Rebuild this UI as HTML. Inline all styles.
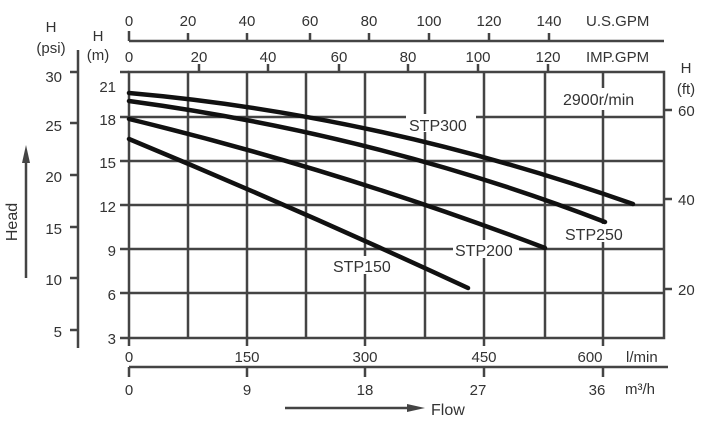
<!DOCTYPE html>
<html><head><style>body{margin:0;background:#fff}svg{display:block}text{font-family:"Liberation Sans",sans-serif;fill:#333}</style></head><body>
<svg width="710" height="425" viewBox="0 0 710 425">
<g stroke="#444" stroke-width="2.5" fill="none">
<rect x="129" y="72" width="535" height="266"/>
<path d="M188 72V338M247 72V338M306 72V338M365 72V338M425 72V338M484 72V338M545 72V338M603 72V338"/>
<path d="M129 117H664M129 161H664M129 205H664M129 249H664M129 293H664"/>
<path d="M120 72H129M120 117H129M120 161H129M120 205H129M120 249H129M120 293H129M120 338H129"/>
<path d="M78 50V348M70 72H78M70 123H78M70 175H78M70 227H78M70 278H78M70 330H78"/>
<path d="M664 110H672M664 199H672M664 289H672"/>
<path d="M129 41H664M129 31V41M188 33V41M247 33V41M310 33V41M369 33V41M429 33V41M489 33V41M549 33V41"/>
<path d="M199 64V72M268 64V72M339 64V72M408 64V72M478 64V72M548 64V72"/>
<path d="M129 338V346M247 338V346M365 338V346M484 338V346M603 338V346"/>
<path d="M129 367H668M129 367V377M247 367V377M365 367V377M484 367V377M603 367V377"/>
</g>
<g font-size="16">
<rect x="558" y="88" width="94" height="22" fill="#fff"/>
<rect x="406" y="114" width="70" height="18" fill="#fff"/>
<rect x="563" y="224" width="66" height="18" fill="#fff"/>
<rect x="453" y="240" width="66" height="18" fill="#fff"/>
<rect x="330" y="256" width="66" height="18" fill="#fff"/>
</g>
<g stroke="#111" stroke-width="4.5" fill="none" stroke-linecap="round">
<path d="M129 93 Q380 115 633 204"/>
<path d="M129 101 Q380 135 605 222"/>
<path d="M129 119 Q340 170 545 248"/>
<path d="M129 139 Q300 210 468 288"/>
</g>
<g font-size="16">
<text x="563" y="105">2900r/min</text>
<text x="409" y="131">STP300</text>
<text x="565" y="240">STP250</text>
<text x="455" y="256">STP200</text>
<text x="333" y="272">STP150</text>
</g>
<path d="M26 278V160" stroke="#444" stroke-width="2.5"/>
<path d="M22 163L26 145L30 163Z" fill="#444"/>
<path d="M285 408H410" stroke="#444" stroke-width="2.5"/>
<path d="M407 404L425 408L407 412Z" fill="#444"/>
<g font-size="15" text-anchor="middle">
<text x="129" y="26">0</text><text x="188" y="26">20</text><text x="247" y="26">40</text><text x="310" y="26">60</text><text x="369" y="26">80</text><text x="429" y="26">100</text><text x="489" y="26">120</text><text x="549" y="26">140</text>
<text x="129" y="62">0</text><text x="199" y="62">20</text><text x="268" y="62">40</text><text x="339" y="62">60</text><text x="408" y="62">80</text><text x="478" y="62">100</text><text x="548" y="62">120</text>
<text x="129" y="362">0</text><text x="247" y="362">150</text><text x="365" y="362">300</text><text x="484" y="362">450</text><text x="590" y="362">600</text>
<text x="129" y="395">0</text><text x="247" y="395">9</text><text x="365" y="395">18</text><text x="478" y="395">27</text><text x="597" y="395">36</text>
<text x="51" y="32">H</text><text x="51" y="53">(psi)</text>
<text x="98" y="41">H</text><text x="98" y="60">(m)</text>
<text x="686" y="73">H</text><text x="686" y="94">(ft)</text>
</g>
<g font-size="15">
<text x="586" y="26">U.S.GPM</text>
<text x="586" y="62">IMP.GPM</text>
<text x="626" y="362">l/min</text>
<text x="625" y="394">m³/h</text>
<text x="431" y="415" font-size="16">Flow</text>
<text x="678" y="116">60</text><text x="678" y="205">40</text><text x="678" y="295">20</text>
</g>
<g font-size="15" text-anchor="end">
<text x="116" y="92">21</text><text x="116" y="125">18</text><text x="116" y="168">15</text><text x="116" y="212">12</text><text x="116" y="256">9</text><text x="116" y="300">6</text><text x="116" y="344">3</text>
<text x="62" y="82">30</text><text x="62" y="131">25</text><text x="62" y="182">20</text><text x="62" y="234">15</text><text x="62" y="285">10</text><text x="62" y="337">5</text>
</g>
<text x="0" y="0" font-size="16" text-anchor="middle" transform="translate(17 222) rotate(-90)">Head</text>
</svg>
</body></html>
